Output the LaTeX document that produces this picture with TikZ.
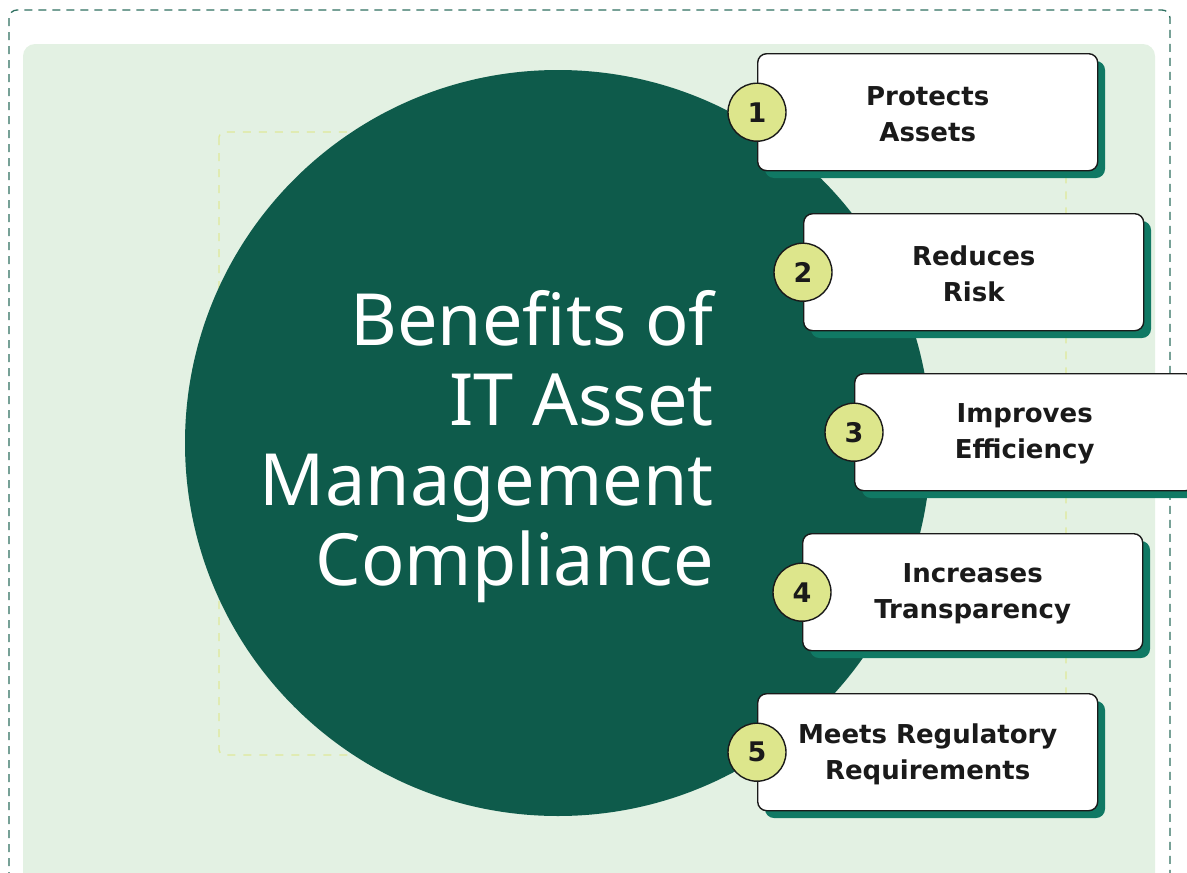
\documentclass[tikz,border=0pt]{standalone}
\usepackage{fontspec}
\setmainfont{Liberation Sans}
\newfontfamily\titlefont{Noto Sans}
\newfontfamily\cardfont{DejaVu Sans}
\definecolor{panelgreen}{HTML}{E3F1E3}
\definecolor{deepgreen}{HTML}{0E5B4B}
\definecolor{shadowgreen}{HTML}{107964}
\definecolor{borderdash}{HTML}{2E6F60}
\definecolor{guideyellow}{HTML}{DFE99A}
\definecolor{badgefill}{HTML}{DDE68C}
\definecolor{inkdark}{HTML}{1A1A1A}
\begin{document}
\begin{tikzpicture}[x=1pt,y=-1pt,
  card/.style={draw=inkdark, line width=1.4pt, fill=white, rounded corners=9pt,
    minimum width=340pt, minimum height=117pt, inner sep=0pt, anchor=north west},
  cardtext/.style={align=center, inner sep=0pt,
    font=\cardfont\bfseries\fontsize{26}{36}\selectfont, text=inkdark},
  cardshadow/.style={fill=shadowgreen, rounded corners=9pt},
  badge/.style={circle, draw=inkdark, line width=1.4pt, fill=badgefill,
    minimum size=58pt, inner sep=0pt, font=\cardfont\bfseries\fontsize{27}{30}\selectfont, text=inkdark}]
\useasboundingbox (0,0) rectangle (1187,873);
\clip (0,0) rectangle (1187,873);
% outer dashed frame and panel
\draw[borderdash, line width=1.3pt, dash pattern=on 8pt off 6pt, rounded corners=8pt]
  (9,10) rectangle (1170,900);
\fill[panelgreen, rounded corners=12pt] (23,44) rectangle (1155,900);
% inner guide frame
\draw[guideyellow, line width=1.4pt, dash pattern=on 8pt off 8pt, rounded corners=5pt]
  (219,132) rectangle (1066,755);
% central disc with title
\fill[deepgreen] (558,443) circle (373);
\node[anchor=north east, align=right, inner sep=0pt, text=white,
  font=\titlefont\fontsize{72}{80}\selectfont] (title) at (714,290)
  {Benefits of\\IT Asset\\Management\\Compliance};
% benefit cards
\foreach \i/\x/\y/\txt in {1/757/53/{Protects\\Assets},
                           2/803/213/{Reduces\\Risk},
                           3/854/373/{Improves\\Efficiency},
                           4/802/533/{Increases\\Transparency},
                           5/757/693/{Meets Regulatory\\Requirements}}{
  \fill[cardshadow] (\x+8,\y+8) rectangle ++(340,117);
  \node[card] (card\i) at (\x,\y) {};
  \node[cardtext] (text\i) at ([yshift=-2pt]card\i.center) {\txt};
  \node[badge] (badge\i) at (card\i.west) {\i};
}
\end{tikzpicture}
\end{document}
